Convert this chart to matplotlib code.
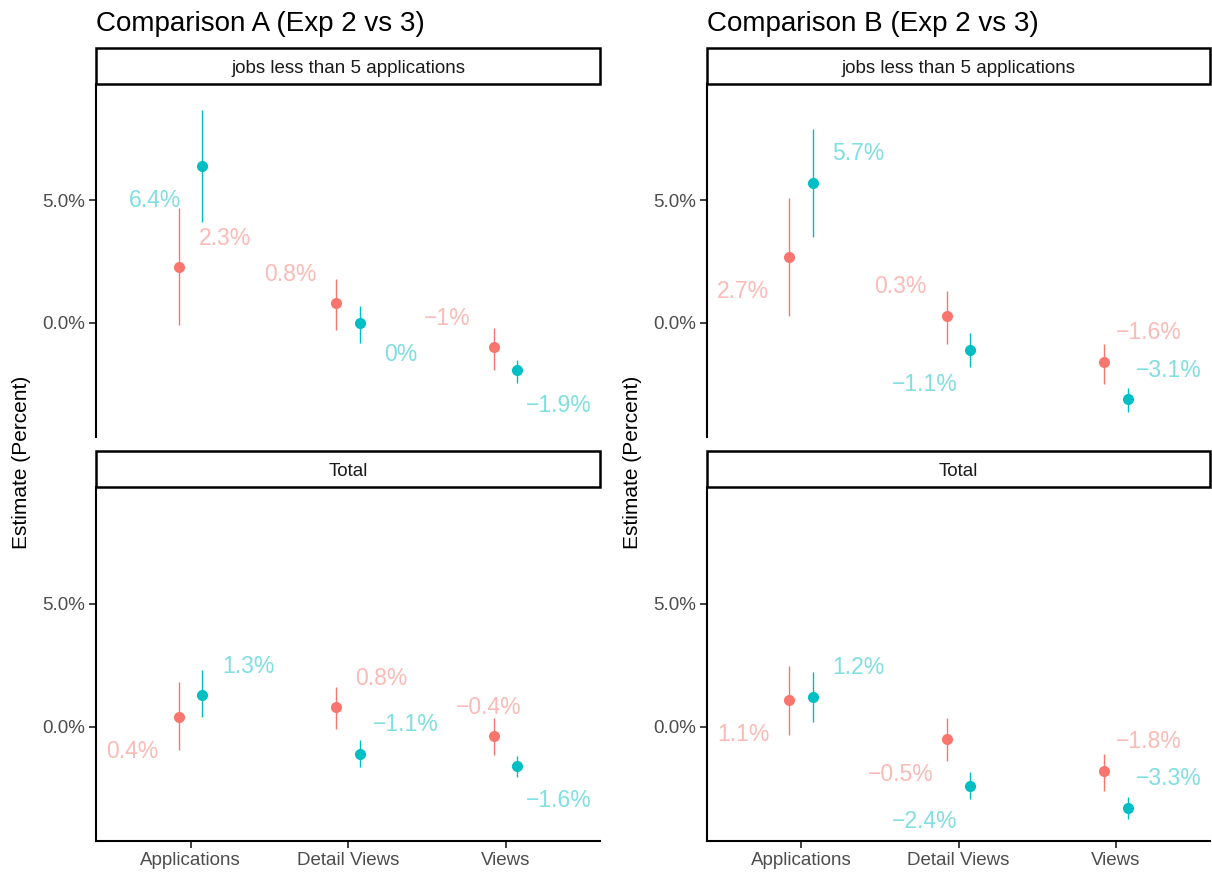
import matplotlib
matplotlib.use("Agg")
import matplotlib.pyplot as plt
from matplotlib.patches import Rectangle

plt.rcParams['font.family'] = ['Liberation Sans', 'DejaVu Sans']

### data
categories = ['Applications', 'Detail Views', 'Views']
facets = ['jobs less than 5 applications', 'Total']
titles = ['Comparison A (Exp 2 vs 3)', 'Comparison B (Exp 2 vs 3)']

# comparison A, facet "jobs less than 5 applications"
a_jobs_red = [2.3, 0.8, -1.0]
a_jobs_red_lo = [-0.1, -0.3, -1.9]
a_jobs_red_hi = [4.7, 1.8, -0.2]
a_jobs_teal = [6.4, 0.0, -1.9]
a_jobs_teal_lo = [4.1, -0.8, -2.45]
a_jobs_teal_hi = [8.7, 0.7, -1.5]
# comparison A, facet "Total"
a_total_red = [0.4, 0.8, -0.4]
a_total_red_lo = [-0.95, -0.1, -1.15]
a_total_red_hi = [1.8, 1.6, 0.35]
a_total_teal = [1.3, -1.1, -1.6]
a_total_teal_lo = [0.4, -1.65, -2.05]
a_total_teal_hi = [2.3, -0.55, -1.2]
# comparison B, facet "jobs less than 5 applications"
b_jobs_red = [2.7, 0.3, -1.6]
b_jobs_red_lo = [0.3, -0.85, -2.5]
b_jobs_red_hi = [5.1, 1.3, -0.85]
b_jobs_teal = [5.7, -1.1, -3.1]
b_jobs_teal_lo = [3.5, -1.8, -3.65]
b_jobs_teal_hi = [7.9, -0.4, -2.65]
# comparison B, facet "Total"
b_total_red = [1.1, -0.5, -1.8]
b_total_red_lo = [-0.35, -1.4, -2.6]
b_total_red_hi = [2.45, 0.35, -1.1]
b_total_teal = [1.2, -2.4, -3.3]
b_total_teal_lo = [0.2, -2.95, -3.75]
b_total_teal_hi = [2.2, -1.85, -2.85]

### label nudges (pixels, right / down)
nudge = {
    ('A', 0, 'red'): [(46, -31), (-46, -31), (-46, -31)],
    ('A', 0, 'teal'): [(-47, 32), (41, 29), (41, 33)],
    ('A', 1, 'red'): [(-46, 32), (45, -31), (-5, -31)],
    ('A', 1, 'teal'): [(46, -31), (46, -32), (41, 32)],
    ('B', 0, 'red'): [(-46, 32), (-46, -32), (45, -32)],
    ('B', 0, 'teal'): [(45, -32), (-46, 32), (41, -31)],
    ('B', 1, 'red'): [(-46, 32), (-46, 33), (45, -32)],
    ('B', 1, 'teal'): [(45, -32), (-46, 33), (41, -32)],
}

series = {
    ('A', 0, 'red'): (a_jobs_red, a_jobs_red_lo, a_jobs_red_hi),
    ('A', 0, 'teal'): (a_jobs_teal, a_jobs_teal_lo, a_jobs_teal_hi),
    ('A', 1, 'red'): (a_total_red, a_total_red_lo, a_total_red_hi),
    ('A', 1, 'teal'): (a_total_teal, a_total_teal_lo, a_total_teal_hi),
    ('B', 0, 'red'): (b_jobs_red, b_jobs_red_lo, b_jobs_red_hi),
    ('B', 0, 'teal'): (b_jobs_teal, b_jobs_teal_lo, b_jobs_teal_hi),
    ('B', 1, 'red'): (b_total_red, b_total_red_lo, b_total_red_hi),
    ('B', 1, 'teal'): (b_total_teal, b_total_teal_lo, b_total_teal_hi),
}

col = {'red': '#F8766D', 'teal': '#00BFC4'}
dodge = {'red': -0.076, 'teal': 0.076}

W, H = 1212, 873
fig = plt.figure(figsize=(W / 100, H / 100), dpi=100)

def box(x0, y0, x1, y1):
    # pixel box (top-left origin) -> figure fraction
    return [x0 / W, 1 - y1 / H, (x1 - x0) / W, (y1 - y0) / H]

def fmt(v):
    return ('{:g}'.format(round(v, 1)) + '%').replace('-', '\u2212')

col_x = [(96, 600), (707, 1210)]
row_y = [(48, 84, 437), (451, 487, 841)]

for c, comp in enumerate(['A', 'B']):
    x0, x1 = col_x[c]
    fig.text(x0 / W, 1 - 31 / H, titles[c], fontsize=20, ha='left', va='baseline')
    fig.text((x0 - 74) / W, 1 - 462 / H, 'Estimate (Percent)', fontsize=15,
             rotation=90, ha='center', va='center')
    for r in range(2):
        s0, s1, p1 = row_y[r]
        # panel
        ax = fig.add_axes(box(x0, s1, x1, p1))
        ax.patch.set_visible(False)
        ax.set_xlim(0.4, 3.6)
        ax.set_ylim(-4.65, 9.74)
        for sp in ['top', 'right']:
            ax.spines[sp].set_visible(False)
        ax.spines['left'].set_linewidth(1.5)
        ax.spines['bottom'].set_linewidth(1.5)
        ax.set_yticks([0, 5])
        ax.set_yticklabels(['0.0%', '5.0%'])
        ax.tick_params(axis='y', length=5, width=1.3, colors='#333333',
                       labelcolor='#4D4D4D', labelsize=13.5, pad=3)
        if r == 0:
            ax.spines['bottom'].set_visible(False)
            ax.set_xticks([])
        else:
            ax.set_xticks([1, 2, 3])
            ax.set_xticklabels(categories)
            ax.tick_params(axis='x', length=5, width=1.3, colors='#333333',
                           labelcolor='#4D4D4D', labelsize=13.5, pad=3)
        for name in ['red', 'teal']:
            est, lo, hi = series[(comp, r, name)]
            xs = [i + 1 + dodge[name] for i in range(len(categories))]
            ax.vlines(xs, lo, hi, color=col[name], linewidth=1.0, zorder=2)
            ax.plot(xs, est, 'o', color=col[name], markersize=8,
                    markeredgewidth=0, zorder=3)
            for i, v in enumerate(est):
                dx, dy = nudge[(comp, r, name)][i]
                ax.annotate(fmt(v), (xs[i], v), xytext=(dx, -dy - 2.5),
                            textcoords='offset pixels', ha='center', va='center',
                            fontsize=16.5, color=col[name], alpha=0.5)
        # strip, drawn on top of the panel
        sax = fig.add_axes(box(x0, s0, x1, s1))
        sax.set_xlim(0, 1); sax.set_ylim(0, 1)
        sax.axis('off')
        sax.add_patch(Rectangle((0, 0), 1, 1, transform=sax.transAxes,
                                facecolor='white', edgecolor='black',
                                linewidth=1.8, clip_on=False))
        sax.text(0.5, 0.42, facets[r], ha='center', va='center', fontsize=13.5,
                 color='#1A1A1A')

fig.savefig('out.png', dpi=100)
